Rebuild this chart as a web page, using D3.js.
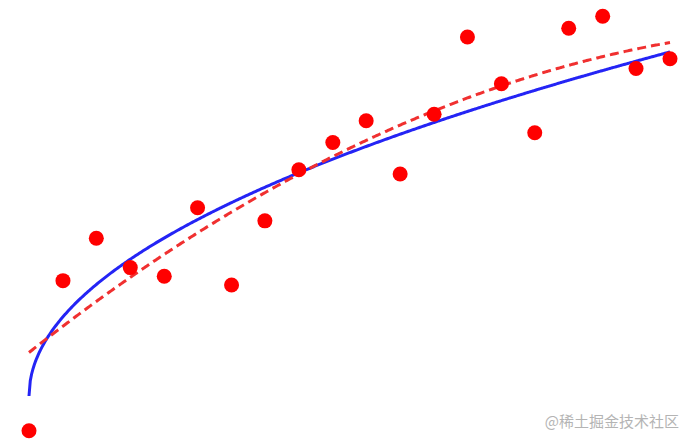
<!DOCTYPE html>
<html>
<head>
<meta charset="utf-8">
<script src="https://cdn.jsdelivr.net/npm/d3@7"></script>
<style>
  body { margin: 0; background: #fff; }
  svg { display: block; }
</style>
</head>
<body>
<svg id="chart" width="693" height="443"></svg>
<script>
// sample points
var xs = [0, 0.53, 1.05, 1.58, 2.11, 2.63, 3.16, 3.68, 4.21, 4.74,
          5.26, 5.79, 6.32, 6.84, 7.37, 7.89, 8.42, 8.95, 9.47, 10];
var ys = [-0.32, 1.06, 1.45, 1.18, 1.10, 1.73, 1.02, 1.61, 2.08, 2.33,
          2.53, 2.04, 2.59, 3.30, 2.87, 2.42, 3.38, 3.49, 3.01, 3.10];

// fitted models: y = a*sqrt(x)  and  y = c0 + c1*x + c2*x^2
var sqrtFit = [1.0];
var polyFit = [0.40, 0.4656, -0.01807];

var svg = d3.select("#chart");

var x = d3.scaleLinear().domain([0, 10]).range([29, 670]);
var y = d3.scaleLinear().domain([0, 3.5]).range([396, 15.2]);

var curveX = d3.range(0, 10.0001, 0.02);

var line = d3.line()
    .x(function(d) { return x(d[0]); })
    .y(function(d) { return y(d[1]); });

// sqrt fit (solid blue)
svg.append("path")
    .datum(curveX.map(function(v) { return [v, sqrtFit[0] * Math.sqrt(v)]; }))
    .attr("d", line)
    .attr("fill", "none")
    .attr("stroke", "#2424f5")
    .attr("stroke-width", 3);

// quadratic fit (dashed red)
svg.append("path")
    .datum(curveX.map(function(v) { return [v, polyFit[0] + polyFit[1] * v + polyFit[2] * v * v]; }))
    .attr("d", line)
    .attr("fill", "none")
    .attr("stroke", "#f03030")
    .attr("stroke-width", 3)
    .attr("stroke-dasharray", "9,5");

// scatter
svg.append("g")
    .selectAll("circle")
    .data(xs)
    .enter().append("circle")
    .attr("cx", function(d) { return x(d); })
    .attr("cy", function(d, i) { return y(ys[i]); })
    .attr("r", 7.5)
    .attr("fill", "#ff0000");

// watermark
svg.append("text")
    .attr("x", 679)
    .attr("y", 427)
    .attr("text-anchor", "end")
    .attr("font-family", "'Noto Sans CJK SC', sans-serif")
    .attr("font-size", 15)
    .attr("fill", "#b4b4b4")
    .text("@稀土掘金技术社区");
</script>
</body>
</html>
